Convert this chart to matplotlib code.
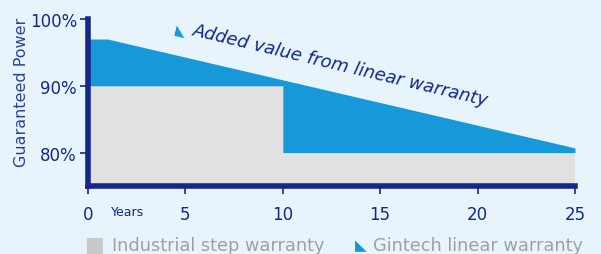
import numpy as np
import matplotlib
matplotlib.use("Agg")
import matplotlib.pyplot as plt

# warranty curves (% of nominal power vs years)
linear_years = [0, 1, 25]
linear_power = [97, 97, 80.7]
step_years = [0, 10, 10, 25]
step_power = [90, 90, 80, 80]
xticks = [0, 5, 10, 15, 20, 25]
yticks = [80, 90, 100]
ytick_labels = ["80%", "90%", "100%"]

navy = "#13288a"
blue = "#1798d8"
grey = "#e1e1e1"
bg = "#e8f4fb"

plt.rcParams["font.family"] = ["DejaVu Sans"]

fig = plt.figure(figsize=(6.01, 2.55), dpi=100)
fig.patch.set_facecolor(bg)
ax = fig.add_axes([0.1464, 0.2667, 0.8103, 0.655])
ax.set_facecolor("none")

# common x grid keeping the vertical step
x = np.array(sorted(linear_years + step_years))
lin = np.interp(x, linear_years, linear_power)
step = np.array([step_power[0] if (xi < step_years[1] or
                 (xi == step_years[1] and i == list(x).index(xi))) else step_power[-1]
                 for i, xi in enumerate(x)])

ax.fill_between(x, 75, step, color=grey, lw=0)
ax.fill_between(x, step, lin, color=blue, lw=0)

ax.set_xlim(0, 25)
ax.set_ylim(75, 100)
for s in ["top", "right"]:
    ax.spines[s].set_visible(False)
for s in ["left", "bottom"]:
    ax.spines[s].set_color(navy)
    ax.spines[s].set_linewidth(4)
    ax.spines[s].set_capstyle("projecting")

ax.set_xticks(xticks)
ax.set_xticklabels([str(v) for v in xticks])
ax.set_yticks(yticks)
ax.set_yticklabels(ytick_labels)
ax.tick_params(axis="both", colors=navy, labelcolor=navy, labelsize=12,
               length=6, width=1.2)
ax.tick_params(axis="x", pad=8)
ax.tick_params(axis="y", pad=2)

fig.text(0.036, 0.637, "Guaranteed Power", rotation=90, ha="center", va="center",
         color="#2e3f9c", fontsize=11.5)
fig.text(0.213, 0.165, "Years", ha="center", va="center", color=navy, fontsize=9)

# annotation
fig.text(0.30, 0.88, "◣", rotation=-14, color=blue, fontsize=10,
         ha="center", va="center")
fig.text(0.322, 0.88, "Added value from linear warranty", rotation=-13.5,
         rotation_mode="anchor", ha="left", va="center", color=navy,
         fontsize=13, style="oblique")

# legend
fig.text(0.140, 0.038, "■", color="#c8c8c8", fontsize=15, ha="left", va="center")
fig.text(0.186, 0.035, "Industrial step warranty", color="#a0a0a0", fontsize=12.8,
         ha="left", va="center")
fig.text(0.590, 0.038, "◣", color=blue, fontsize=11, ha="left", va="center")
fig.text(0.620, 0.035, "Gintech linear warranty", color="#a0a0a0", fontsize=12.8,
         ha="left", va="center")

fig.savefig("out.png", dpi=100, facecolor=bg)
